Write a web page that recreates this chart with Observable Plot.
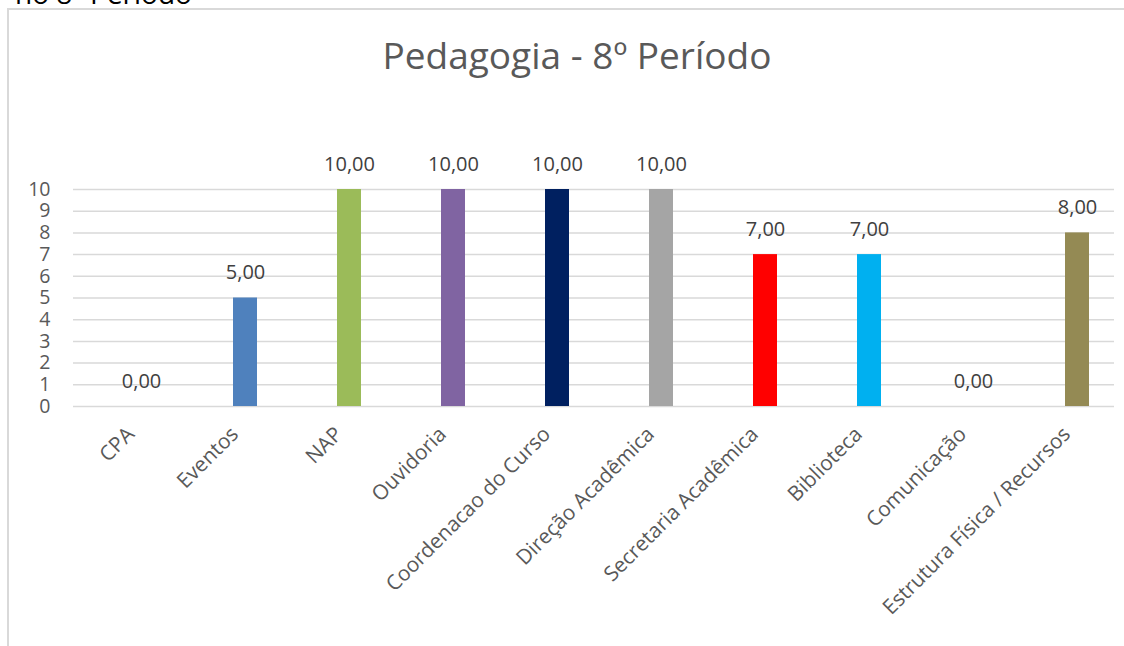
<!DOCTYPE html>
<html>
<head>
<meta charset="utf-8">
<script src="https://cdn.jsdelivr.net/npm/d3@7"></script>
<script src="https://cdn.jsdelivr.net/npm/@observablehq/plot@0.6"></script>
<style>
  html, body { margin: 0; padding: 0; background: #fff; }
  #wrap { position: relative; width: 1124px; height: 646px; overflow: hidden; font-family: "Open Sans", sans-serif; }
  #cut { position: absolute; left: 15px; top: -27px; font-size: 28px; color: #000; white-space: nowrap; line-height: 40px; }
  #box { position: absolute; left: 7px; top: 8px; width: 1300px; height: 800px; border: 2px solid #d9d9d9; box-sizing: border-box; background: #fff; }
  #title { position: absolute; left: 0; width: 1154px; top: 30px; text-align: center; font-size: 37px; color: #595959; line-height: 50px; white-space: nowrap; }
  #chart { position: absolute; left: 0; top: 0; }
</style>
</head>
<body>
<div id="wrap">
  <div id="cut">no 8º Período</div>
  <div id="box"></div>
  <div id="title">Pedagogia - 8º Período</div>
  <div id="chart"></div>
</div>
<script>
const categories = ["CPA", "Eventos", "NAP", "Ouvidoria", "Coordenacao do Curso", "Direção Acadêmica", "Secretaria Acadêmica", "Biblioteca", "Comunicação", "Estrutura Física / Recursos"];
const values = [0, 5, 10, 10, 10, 10, 7, 7, 0, 8];
const colors = ["#F79646", "#4F81BD", "#9BBB59", "#8064A2", "#002060", "#A5A5A5", "#FF0000", "#00B0F0", "#4BACC6", "#948A54"];
const yTicks = [0, 1, 2, 3, 4, 5, 6, 7, 8, 9, 10];

const data = categories.map((c, i) => ({ cat: c, value: values[i], color: colors[i] }));
const fmt = v => v.toFixed(2).replace(".", ",");

const chart = Plot.plot({
  width: 1124,
  height: 646,
  marginTop: 189,
  marginBottom: 240,
  marginLeft: 73,
  marginRight: 10,
  style: { fontFamily: "Open Sans, sans-serif", background: "transparent", overflow: "visible" },
  x: { type: "band", domain: categories, padding: 0, insetLeft: 16, insetRight: -15, axis: null, label: null },
  y: { domain: [0, 10], ticks: yTicks, axis: null, label: null },
  marks: [
    Plot.ruleY(yTicks, { stroke: "#d9d9d9", strokeWidth: 1.5 }),
    Plot.axisY(yTicks, { tickSize: 0, tickPadding: 23, fontSize: 19.5, fill: "#595959", tickFormat: d => String(d), label: null }),
    Plot.barY(data, { x: "cat", y: "value", fill: d => d.color, insetLeft: 40, insetRight: 40 }),
    Plot.text(data, { x: "cat", y: "value", text: d => fmt(d.value), dy: -25, fontSize: 20, fill: "#404040" }),
    Plot.text(categories, { x: d => d, frameAnchor: "bottom", rotate: -45, textAnchor: "end", dx: -6, dy: 29, fontSize: 20.8, fill: "#595959" })
  ]
});
document.getElementById("chart").appendChild(chart);
</script>
</body>
</html>
